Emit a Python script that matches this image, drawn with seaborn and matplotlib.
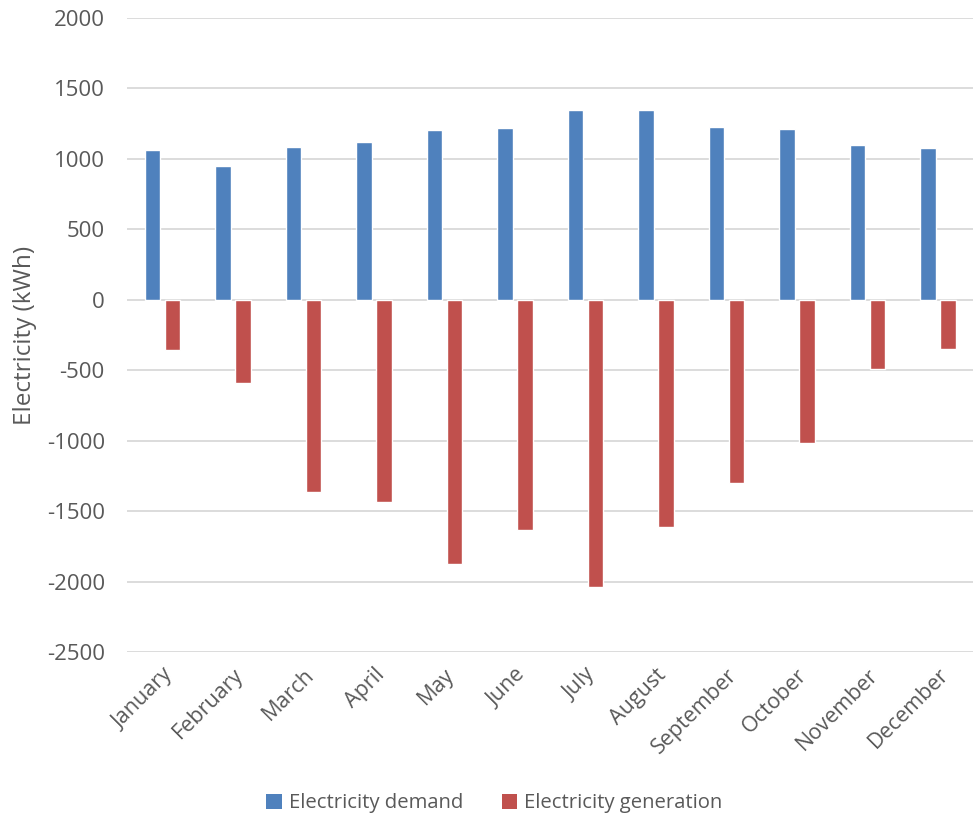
import matplotlib
matplotlib.use("Agg")
import matplotlib.pyplot as plt
import seaborn as sns
import pandas as pd
from matplotlib.patches import Patch

months = ["January", "February", "March", "April", "May", "June", "July",
          "August", "September", "October", "November", "December"]
demand = [1064, 946, 1083, 1117, 1203, 1216, 1347, 1347, 1226, 1209, 1096, 1077]
generation = [-355, -589, -1366, -1434, -1873, -1633, -2041, -1612, -1300, -1015, -490, -348]
series_names = ["Electricity demand", "Electricity generation"]
y_ticks = [-2500, -2000, -1500, -1000, -500, 0, 500, 1000, 1500, 2000]

df = pd.DataFrame({
    "Month": months * 2,
    "Value": demand + generation,
    "Series": [series_names[0]] * len(months) + [series_names[1]] * len(months),
})

sns.set_theme(style="white")
plt.rcParams["font.family"] = ["Open Sans", "DejaVu Sans"]

text_color = "#595959"
grid_color = "#d9d9d9"
palette = {series_names[0]: "#4F81BD", series_names[1]: "#C0504D"}

fig = plt.figure(figsize=(9.77, 8.18), dpi=100)
ax = fig.add_axes([0.130, 0.203, 0.866, 0.775])

sns.barplot(data=df, x="Month", y="Value", hue="Series", order=months,
            hue_order=series_names, palette=palette, width=0.567, gap=0.225,
            saturation=1, ax=ax, legend=False, errorbar=None, zorder=3)

ax.set_ylim(-2500, 2000)
ax.set_yticks(y_ticks)
ax.set_yticklabels([str(v) for v in y_ticks])
ax.set_xlim(-0.5, len(months) - 0.5)
ax.yaxis.grid(True, color=grid_color, linewidth=1.3, zorder=0)
ax.set_axisbelow(True)
for s in ax.spines.values():
    s.set_visible(False)

ax.tick_params(axis="y", length=0, pad=16, labelsize=16, labelcolor=text_color)
ax.tick_params(axis="x", length=0, pad=9, labelsize=15.5, labelcolor=text_color)
for lbl in ax.get_xticklabels():
    lbl.set_rotation(45)
    lbl.set_ha("right")
    lbl.set_rotation_mode("anchor")

ax.set_xlabel("")
ax.set_ylabel("Electricity (kWh)", fontsize=17.5, color=text_color)
ax.yaxis.set_label_coords(-0.106, 0.5)

handles = [Patch(facecolor=palette[n], edgecolor="none") for n in series_names]
fig.legend(handles, series_names, loc="center", bbox_to_anchor=(0.506, 0.018),
           ncol=2, frameon=False, fontsize=14.6, labelcolor=text_color,
           handlelength=0.75, handleheight=0.75, handletextpad=0.35,
           columnspacing=1.9)

fig.savefig("out.png", dpi=100)
